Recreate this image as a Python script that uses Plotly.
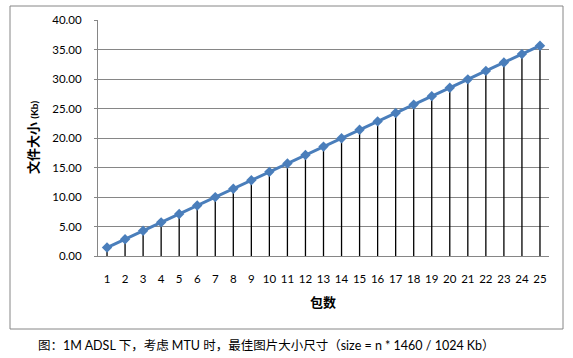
import plotly.graph_objects as go

packets = list(range(1, 26))
sizes_kb = [1.43, 2.85, 4.28, 5.70, 7.13, 8.55, 9.98, 11.41, 12.83, 14.26,
            15.68, 17.11, 18.54, 19.96, 21.39, 22.81, 24.24, 25.66, 27.09, 28.52,
            29.94, 31.37, 32.79, 34.22, 35.64]
x_title = "包数"
y_title = "文件大小 <span style='font-size:10px'>(Kb)</span>"
caption = "图：1M ADSL 下，考虑 MTU 时，最佳图片大小尺寸（size = n * 1460 / 1024 Kb）"

W, H = 573, 358
L, R, T, B = 98, 549, 20, 256

def px(x):
    return (x - L) / (R - L)

def py(y):
    return (B - y) / (B - T)

font_main = "Lato, 'Noto Sans CJK SC', sans-serif"

fig = go.Figure()
fig.add_trace(go.Scatter(
    x=packets, y=sizes_kb, mode="lines+markers",
    line=dict(color="#4A7EBB", width=3),
    marker=dict(symbol="diamond", size=8, color="#4A7EBB"),
    error_y=dict(type="data", symmetric=False, array=[0] * len(sizes_kb),
                 arrayminus=sizes_kb, color="black", thickness=1.3, width=0),
    showlegend=False,
))

fig.update_layout(
    width=W, height=H,
    margin=dict(l=L, r=W - R, t=T, b=H - B),
    paper_bgcolor="white", plot_bgcolor="white",
    font=dict(family=font_main, size=11, color="black"),
    xaxis=dict(
        range=[0.5, 25.5], tickmode="array", tickvals=packets,
        ticktext=[str(p) for p in packets],
        showgrid=False, zeroline=False,
        showline=True, linecolor="#868686", linewidth=1,
        ticks="outside", ticklen=12, tickcolor="rgba(0,0,0,0)",
        tickfont=dict(size=11.5),
    ),
    yaxis=dict(
        range=[0, 40], dtick=5, tickformat=".2f",
        showgrid=True, gridcolor="#868686", gridwidth=1,
        zeroline=False, showline=True, linecolor="#868686", linewidth=1,
        ticks="outside", ticklen=3, tickcolor="#868686",
        ticklabelstandoff=10, tickfont=dict(size=11.5),
    ),
    shapes=[dict(type="rect", xref="paper", yref="paper",
                 x0=px(10), x1=px(563), y0=py(329), y1=py(6),
                 line=dict(color="#868686", width=1), fillcolor="rgba(0,0,0,0)",
                 layer="below")],
    annotations=[
        dict(text="<b>" + x_title + "</b>", xref="paper", yref="paper",
             x=px(323), y=py(302), showarrow=False, font=dict(size=13),
             xanchor="center", yanchor="middle"),
        dict(text="<b>" + y_title + "</b>", xref="paper", yref="paper",
             x=px(33), y=py(138), showarrow=False, textangle=-90,
             font=dict(size=13), xanchor="center", yanchor="middle"),
        dict(text=caption, xref="paper", yref="paper",
             x=px(266), y=py(345), showarrow=False, font=dict(size=12.5),
             xanchor="center", yanchor="middle"),
    ],
)

fig.write_html("out.html")
